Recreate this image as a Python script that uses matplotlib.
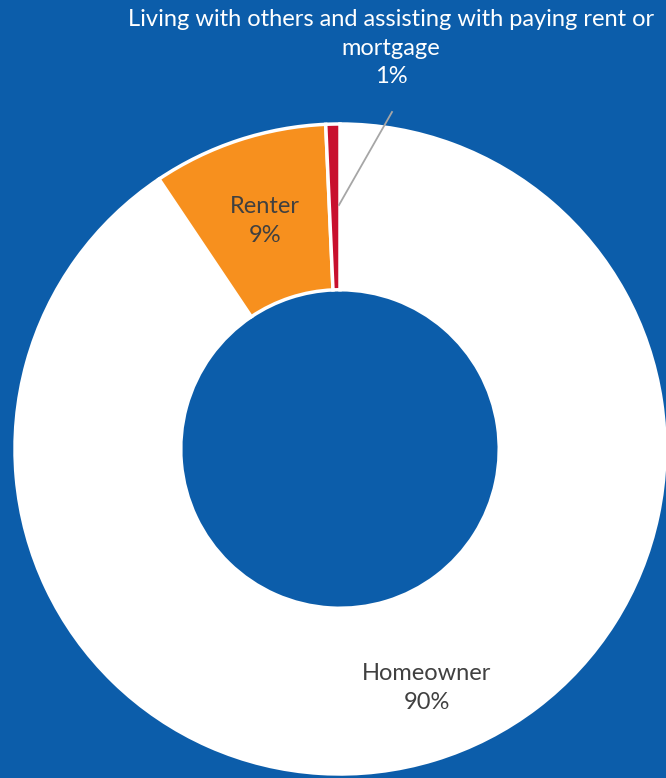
import matplotlib.pyplot as plt

categories = ["Homeowner", "Renter", "Living with others and assisting with paying rent or\nmortgage"]
shares = [90.6, 8.7, 0.7]
pct_labels = ["90%", "9%", "1%"]
colors = ["#FFFFFF", "#F7901E", "#C8102E"]

bg = "#0C5DAA"
plt.rcParams['font.family'] = ['Lato', 'DejaVu Sans']

fig = plt.figure(figsize=(6.66, 7.78), dpi=100, facecolor=bg)
ax = fig.add_axes([0, 0, 1, 1])
ax.set_facecolor(bg)

cx, cy, R = 340, 329, 325
wedges, _ = ax.pie(shares, colors=colors, startangle=90, counterclock=False,
                   center=(cx, cy), radius=R,
                   wedgeprops=dict(width=R * 0.51, edgecolor='white', linewidth=2.5))
ax.set_xlim(0, 666)
ax.set_ylim(0, 778)
ax.set_aspect('equal')
ax.axis('off')

txt = "#404040"
ax.text(427, 778 - 688, categories[0] + "\n" + pct_labels[0], ha='center', va='center',
        fontsize=17, color=txt, linespacing=1.45)
ax.text(265, 778 - 221, categories[1] + "\n" + pct_labels[1], ha='center', va='center',
        fontsize=17, color=txt, linespacing=1.45)
ax.text(391, 778 - 48, categories[2] + "\n" + pct_labels[2], ha='center', va='center',
        fontsize=17, color='white', linespacing=1.45)
ax.plot([339, 392], [778 - 205, 778 - 112], color='#A6A6A6', linewidth=1.3)

fig.savefig("out.png", dpi=100, facecolor=bg)
